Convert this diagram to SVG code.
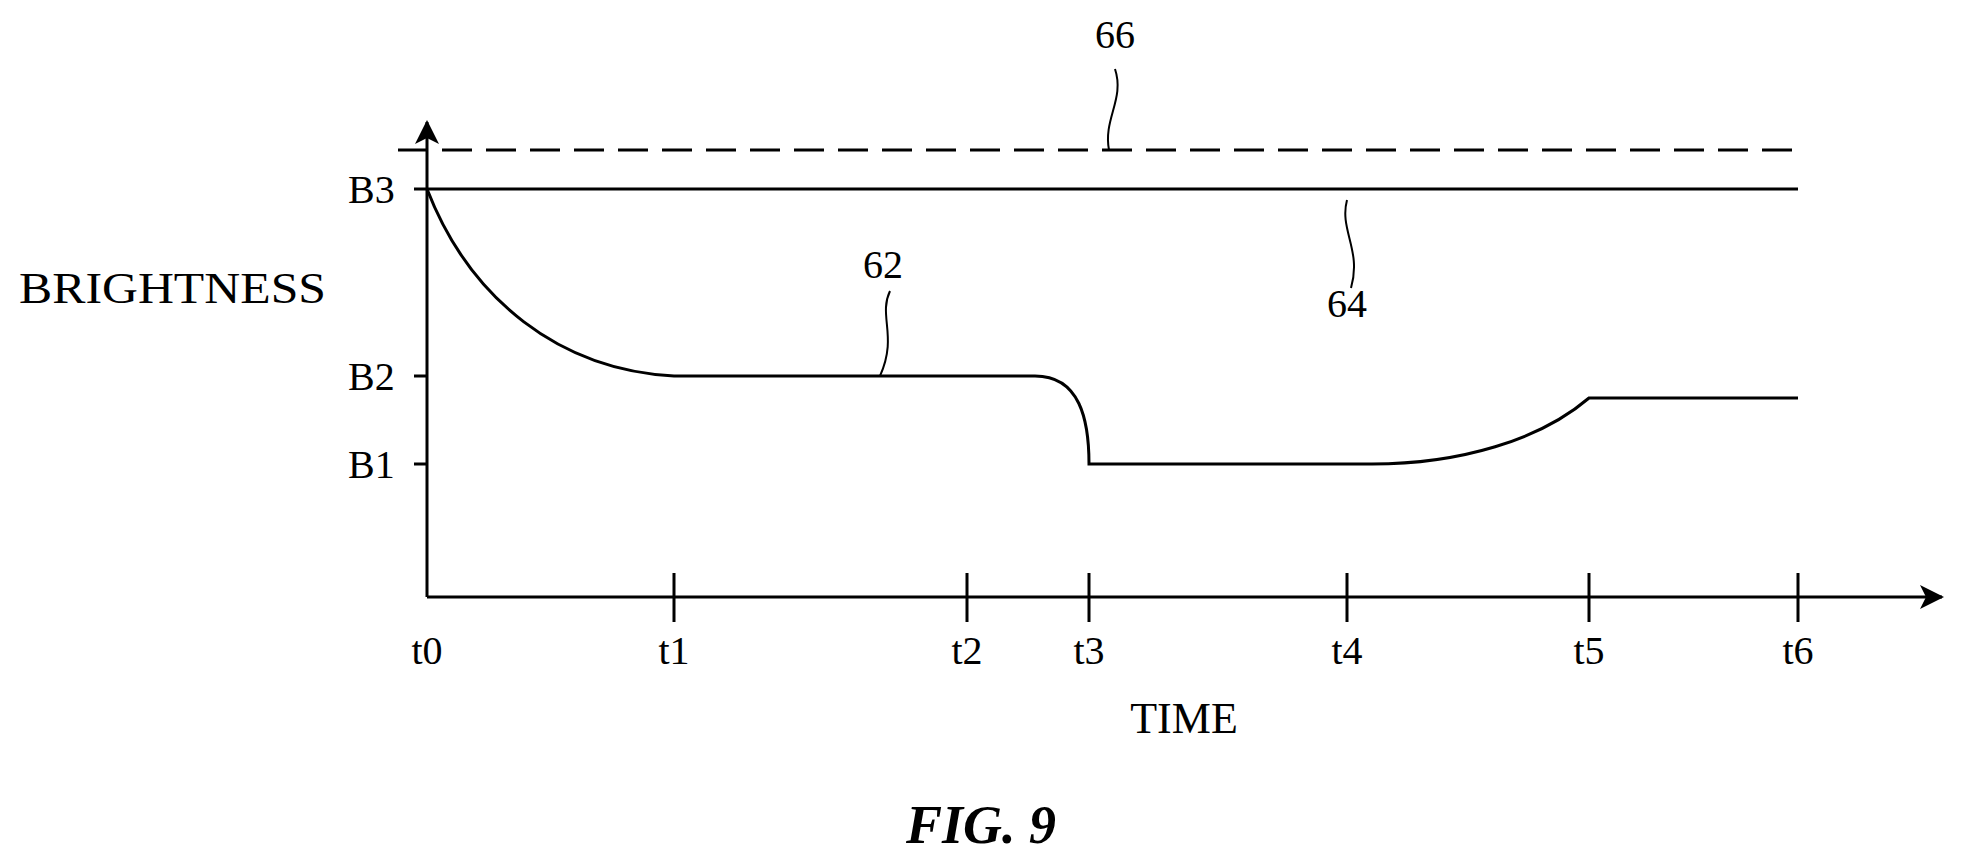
<svg xmlns="http://www.w3.org/2000/svg" width="1965" height="865" viewBox="0 0 1965 865">
<style>
.l{fill:none;stroke:#000;stroke-width:3}
.t{font-family:"Liberation Serif",serif;font-size:40px;fill:#000}
</style>
<defs>
<marker id="ar" viewBox="0 0 24 24" markerWidth="24" markerHeight="24" refX="22" refY="12" orient="auto" markerUnits="userSpaceOnUse"><path d="M0,0L24,12L0,24L6,12z" fill="#000"/></marker></defs>
<rect width="1965" height="865" fill="#fff"/>
<g id="axes">
<path class="l" d="M427,597V122" marker-end="url(#ar)"/>
<path class="l" d="M427,597H1942" marker-end="url(#ar)"/>
<path class="l" d="M674,573v49M967,573v49M1089,573v49M1347,573v49M1589,573v49M1798,573v49"/>
<path class="l" d="M414,189h13M414,376h13M414,464h13"/>
</g>
<g id="labels" class="t">
<text x="427" y="664" text-anchor="middle">t0</text>
<text x="674" y="664" text-anchor="middle">t1</text>
<text x="967" y="664" text-anchor="middle">t2</text>
<text x="1089" y="664" text-anchor="middle">t3</text>
<text x="1347" y="664" text-anchor="middle">t4</text>
<text x="1589" y="664" text-anchor="middle">t5</text>
<text x="1798" y="664" text-anchor="middle">t6</text>
<text x="348" y="203">B3</text>
<text x="348" y="390">B2</text>
<text x="348" y="478">B1</text>
<text x="19" y="303" textLength="307" lengthAdjust="spacingAndGlyphs" style="font-size:44px">BRIGHTNESS</text>
<text x="1184" y="733" text-anchor="middle" style="font-size:44px">TIME</text>
<text x="883" y="278" text-anchor="middle">62</text>
<text x="1347" y="317" text-anchor="middle">64</text>
<text x="1115" y="48" text-anchor="middle">66</text>
<text x="981" y="843" text-anchor="middle" style="font-style:italic;font-weight:bold;font-size:54px">FIG. 9</text>
</g>
<g id="line66"><path class="l" d="M398,150H1800" stroke-dasharray="30,14"/></g>
<g id="line64"><path class="l" d="M427,189H1798"/></g>
<g id="curve62"><path class="l" d="M427,189C470,300 560,370 674,376H1035C1080,376 1089,420 1089,464H1372C1460,464 1540,440 1589,398H1798"/></g>
<g id="leaders" class="l" style="stroke-width:2">
<path d="M890,291c-12,25 8,45 -10,85"/>
<path d="M1347,200c-8,30 15,50 4,88"/>
<path d="M1115,69c10,30 -12,50 -6,81"/>
</g>
</svg>
